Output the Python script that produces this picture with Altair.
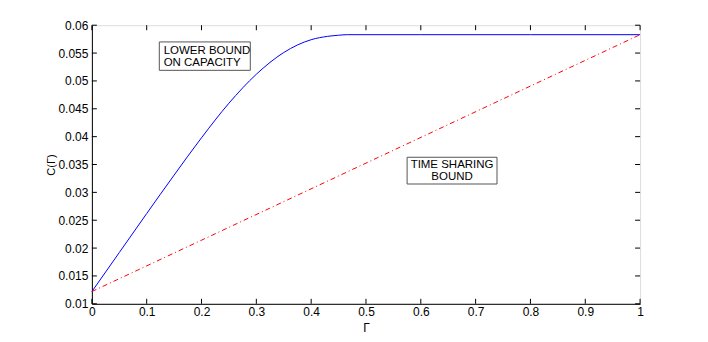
import altair as alt
import pandas as pd

# Lower bound on capacity (blue curve)
gamma_lb = [0.0, 0.05, 0.10, 0.15, 0.20, 0.25, 0.30, 0.35, 0.40, 0.43, 0.45, 0.466, 0.60, 0.80, 1.0]
cap_lb = [0.0122, 0.0192, 0.0262, 0.0331, 0.0398, 0.0460, 0.0512, 0.0551, 0.0574, 0.0580, 0.0582, 0.0583, 0.0583, 0.0583, 0.0583]

# Time sharing bound (red dash-dot line)
gamma_ts = [0.0, 1.0]
cap_ts = [0.0122, 0.0583]

x_ticks = [0, 0.1, 0.2, 0.3, 0.4, 0.5, 0.6, 0.7, 0.8, 0.9, 1.0]
y_ticks = [0.01, 0.015, 0.02, 0.025, 0.03, 0.035, 0.04, 0.045, 0.05, 0.055, 0.06]

# annotation boxes (data coordinates)
box_x1 = [0.123, 0.575]
box_x2 = [0.289, 0.739]
box_y1 = [0.0519, 0.0315]
box_y2 = [0.0570, 0.0363]

lb_text = ["LOWER BOUND", "ON CAPACITY"]
lb_x = [0.131, 0.131]
lb_y = [0.0553, 0.0532]
ts_text = ["TIME SHARING", "BOUND"]
ts_x = [0.657, 0.657]
ts_y = [0.0349, 0.0327]

W, H = 549, 279
FONT = "Liberation Sans"

xs = alt.Scale(domain=[0, 1], nice=False, zero=False)
ys = alt.Scale(domain=[0.01, 0.06], nice=False, zero=False)

df_lb = pd.DataFrame({"g": gamma_lb, "c": cap_lb})
df_ts = pd.DataFrame({"g": gamma_ts, "c": cap_ts})
df_xt = pd.DataFrame({"t": x_ticks})
df_yt = pd.DataFrame({"t": y_ticks})
df_box = pd.DataFrame({"x1": box_x1, "x2": box_x2, "y1": box_y1, "y2": box_y2})
df_lbt = pd.DataFrame({"x": lb_x, "y": lb_y, "s": lb_text})
df_tst = pd.DataFrame({"x": ts_x, "y": ts_y, "s": ts_text})

x_axis = alt.Axis(values=x_ticks, format="~g", title="Γ", grid=False,
                  tickSize=0, labelPadding=3, domainColor="black",
                  labelFont=FONT, labelFontSize=12, labelColor="black",
                  labelOverlap=False, labelFlush=False,
                  titleFontWeight="normal", titleFontSize=12, titleColor="black",
                  titleY=24, titleBaseline="middle", titleFont=FONT)
y_axis = alt.Axis(values=y_ticks, format="~g", title="C(Γ)", grid=False,
                  tickSize=0, labelPadding=4, domainColor="black",
                  labelFont=FONT, labelFontSize=12, labelColor="black",
                  labelOverlap=False, labelFlush=False,
                  titleFontWeight="normal", titleFontSize=11, titleColor="black",
                  titleX=-40, titleY=H / 2, titleBaseline="middle",
                  titleFont=FONT)


def X(f):
    return alt.X(f, scale=xs, axis=x_axis, title="Γ")


def Y(f):
    return alt.Y(f, scale=ys, axis=y_axis, title="C(Γ)")


blue = alt.Chart(df_lb).mark_line(color="#0000ff", strokeWidth=1, interpolate="monotone").encode(
    x=X("g:Q"), y=Y("c:Q"))
red = alt.Chart(df_ts).mark_line(color="#ff0000", strokeWidth=1, strokeDash=[5, 3, 1, 3]).encode(
    x=X("g:Q"), y=Y("c:Q"))

xt_bot = alt.Chart(df_xt).mark_rule(color="black", strokeWidth=1).encode(
    x=X("t:Q"), y=alt.value(H), y2=alt.value(H - 5))
xt_top = alt.Chart(df_xt).mark_rule(color="black", strokeWidth=1).encode(
    x=X("t:Q"), y=alt.value(0), y2=alt.value(5))
yt_left = alt.Chart(df_yt).mark_rule(color="black", strokeWidth=1).encode(
    y=Y("t:Q"), x=alt.value(0), x2=alt.value(5))
yt_right = alt.Chart(df_yt).mark_rule(color="black", strokeWidth=1).encode(
    y=Y("t:Q"), x=alt.value(W - 5), x2=alt.value(W))

boxes = alt.Chart(df_box).mark_rect(fill="white", stroke="#555555", strokeWidth=1).encode(
    x=X("x1:Q"), x2="x2:Q", y=Y("y1:Q"), y2="y2:Q")
lbt = alt.Chart(df_lbt).mark_text(align="left", baseline="middle", fontSize=11.5, font=FONT, color="black").encode(
    x=X("x:Q"), y=Y("y:Q"), text="s:N")
tst = alt.Chart(df_tst).mark_text(align="center", baseline="middle", fontSize=11.5, font=FONT, color="black").encode(
    x=X("x:Q"), y=Y("y:Q"), text="s:N")

chart = alt.layer(blue, red, xt_bot, xt_top, yt_left, yt_right, boxes, lbt, tst).properties(
    width=W, height=H,
    autosize=alt.AutoSizeParams(type="none"),
    padding={"left": 84, "top": 17, "right": 60, "bottom": 30},
).configure_view(stroke="black", strokeWidth=1).configure(background="white")

chart.save("out.html", embed_options={"renderer": "svg", "actions": False})
